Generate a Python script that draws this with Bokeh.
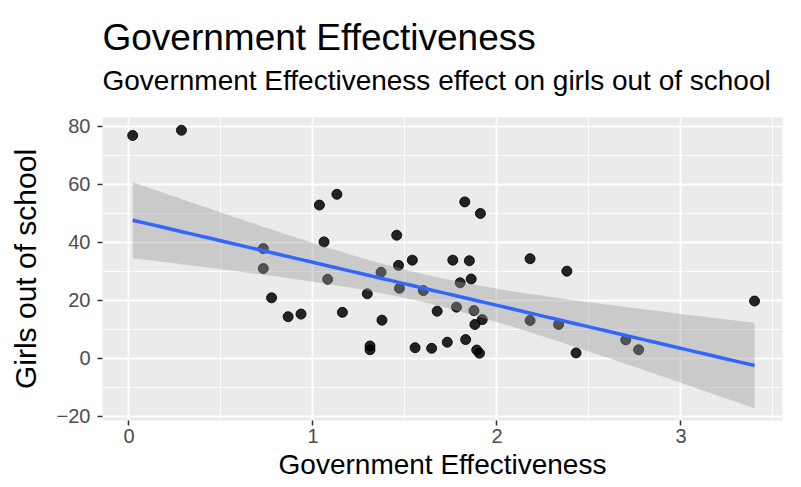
import numpy as np
from bokeh.plotting import figure
from bokeh.models import Title, FixedTicker, Range1d, ColumnDataSource
from bokeh.embed import file_html
from bokeh.resources import INLINE

# ---- data ----
gov_eff = [0.02, 0.285, 0.73, 0.73, 0.775, 0.865, 0.935, 1.035, 1.06, 1.08,
           1.13, 1.16, 1.295, 1.31, 1.31, 1.37, 1.375, 1.455, 1.465, 1.47,
           1.54, 1.555, 1.60, 1.645, 1.675, 1.73, 1.76, 1.78, 1.80, 1.825,
           1.83, 1.85, 1.86, 1.875, 1.88, 1.89, 1.905, 1.91, 1.92, 2.18,
           2.18, 2.335, 2.38, 2.43, 2.70, 2.77, 3.40]
girls_out = [76.8, 78.6, 37.8, 30.9, 20.8, 14.3, 15.2, 52.8, 40.1, 27.2,
             56.5, 15.8, 22.2, 4.2, 2.9, 29.6, 13.1, 42.4, 32.0, 24.1,
             33.8, 3.6, 23.3, 3.4, 16.2, 5.5, 33.8, 17.6, 26.0, 53.9,
             6.4, 33.6, 27.3, 16.4, 11.6, 2.8, 1.7, 49.9, 13.3, 34.3,
             13.0, 11.6, 30.0, 1.8, 6.3, 2.9, 19.7]
x_ticks = [0, 1, 2, 3]
y_ticks = [-20, 0, 20, 40, 60, 80]
x_minor = [-0.5, 0.5, 1.5, 2.5, 3.5]
y_minor = [-10, 10, 30, 50, 70]

title_text = "Government Effectiveness"
subtitle_text = "Government Effectiveness effect on girls out of school"
x_label = "Government Effectiveness"
y_label = "Girls out of school"

# ---- linear model fit with 95% confidence band (geom_smooth(method="lm")) ----
x = np.array(gov_eff)
y = np.array(girls_out)
n = len(x)
b1, b0 = np.polyfit(x, y, 1)
xs = np.linspace(x.min(), x.max(), 100)
yhat = b0 + b1 * xs
resid = y - (b0 + b1 * x)
s = np.sqrt(np.sum(resid ** 2) / (n - 2))
sxx = np.sum((x - x.mean()) ** 2)
se = s * np.sqrt(1.0 / n + (xs - x.mean()) ** 2 / sxx)
tq = 2.014
upper = yhat + tq * se
lower = yhat - tq * se

FONT = "Liberation Sans"

p = figure(frame_width=680, frame_height=303,
           min_border_left=102, min_border_right=3,
           min_border_top=117, min_border_bottom=59,
           x_range=Range1d(-0.144, 3.552), y_range=Range1d(-21.5, 83),
           output_backend="svg", toolbar_location=None, title_location=None)

p.background_fill_color = "#EBEBEB"
p.border_fill_color = "white"
p.outline_line_color = None

# grid
for g in (p.xgrid[0], p.ygrid[0]):
    g.grid_line_color = "white"
    g.grid_line_width = 1.8
    g.minor_grid_line_color = "white"
    g.minor_grid_line_width = 0.9
p.xaxis.ticker = FixedTicker(ticks=x_ticks, minor_ticks=x_minor)
p.yaxis.ticker = FixedTicker(ticks=y_ticks, minor_ticks=y_minor)
p.xgrid[0].ticker = p.xaxis[0].ticker
p.ygrid[0].ticker = p.yaxis[0].ticker

for ax in (p.xaxis[0], p.yaxis[0]):
    ax.axis_line_color = None
    ax.major_tick_line_color = "#333333"
    ax.major_tick_line_width = 1.5
    ax.major_tick_out = 5
    ax.major_tick_in = 0
    ax.minor_tick_line_color = None
    ax.major_label_text_font = FONT
    ax.major_label_text_font_size = "20px"
    ax.major_label_text_color = "#4D4D4D"
    ax.axis_label_text_font = FONT
    ax.axis_label_text_font_style = "normal"
    ax.axis_label_text_color = "black"

p.xaxis.axis_label = x_label
p.yaxis.axis_label = y_label
p.xaxis.axis_label_text_font_size = "28px"
p.yaxis.axis_label_text_font_size = "30px"
p.xaxis.major_label_standoff = 3
p.xaxis.axis_label_standoff = 3
p.yaxis.major_label_standoff = 7
p.yaxis.axis_label_standoff = 12

# points, then ribbon, then fitted line (ggplot layer order)
src = ColumnDataSource(dict(x=gov_eff, y=girls_out))
p.scatter("x", "y", source=src, size=10, fill_color="black", line_color="black",
          fill_alpha=0.85, line_alpha=0.85)
p.varea(x=xs, y1=lower, y2=upper, fill_color="#999999", fill_alpha=0.4)
p.line(xs, yhat, line_color="#3366FF", line_width=3.5)

# titles
sub = Title(text=subtitle_text, text_font=FONT, text_font_size="28px",
            text_font_style="normal", text_color="black", align="left", standoff=43)
p.add_layout(sub, "above")
main = Title(text=title_text, text_font=FONT, text_font_size="37px",
             text_font_style="normal", text_color="black", align="left", standoff=-33)
p.add_layout(main, "above")

open("out.html", "w").write(file_html(p, INLINE))
